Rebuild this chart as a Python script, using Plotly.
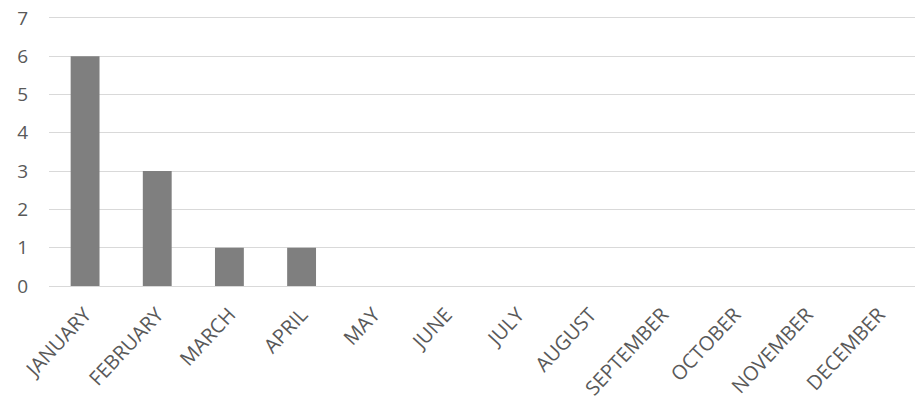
import plotly.graph_objects as go

months = ["JANUARY", "FEBRUARY", "MARCH", "APRIL", "MAY", "JUNE", "JULY",
          "AUGUST", "SEPTEMBER", "OCTOBER", "NOVEMBER", "DECEMBER"]
counts = [6, 3, 1, 1, 0, 0, 0, 0, 0, 0, 0, 0]
y_ticks = [0, 1, 2, 3, 4, 5, 6, 7]

fig = go.Figure(go.Bar(x=months, y=counts, marker=dict(color="#7f7f7f", line=dict(width=0))))

fig.update_layout(
    width=916, height=402,
    margin=dict(l=49, r=1, t=16, b=116),
    paper_bgcolor="white", plot_bgcolor="white",
    bargap=0.6,
    showlegend=False,
    font=dict(family="Open Sans", color="#595959", size=16),
)
fig.update_xaxes(tickangle=-47, showgrid=False, showline=False, ticks="outside",
                 ticklen=8, tickcolor="rgba(0,0,0,0)",
                 tickfont=dict(size=20, color="#595959"))
fig.update_yaxes(range=[0, 7.05], tickvals=y_ticks, showgrid=True, gridcolor="#d9d9d9",
                 gridwidth=1.3, zeroline=True, zerolinecolor="#d9d9d9", zerolinewidth=1.3,
                 ticks="", ticklabelstandoff=20, tickfont=dict(size=19, color="#595959"))

fig.write_html("out.html")
